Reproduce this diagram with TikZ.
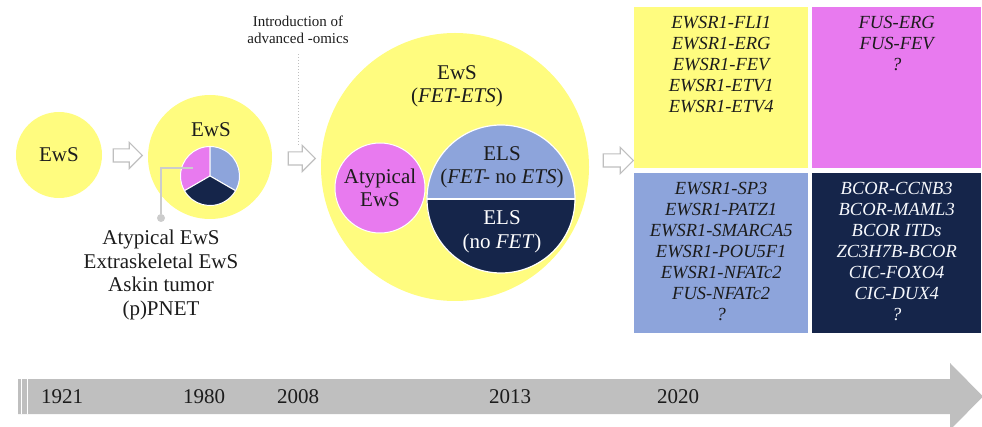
\documentclass[tikz,border=0pt]{standalone}
\usepackage{fontspec}
\setmainfont{Liberation Serif}
\usepackage{xcolor}
\definecolor{ewsyellow}{HTML}{FFFC7F}
\definecolor{atypink}{HTML}{E87AEF}
\definecolor{elsblue}{HTML}{8DA4DB}
\definecolor{elsnavy}{HTML}{15254A}
\definecolor{axisgrey}{HTML}{BFBFBF}
\definecolor{inkdark}{HTML}{1C1C1C}
\usepackage{tikz}
\usetikzlibrary{shapes,arrows,arrows.meta}
\usetikzlibrary{positioning}

\begin{document}
\begin{tikzpicture}[x=1pt,y=-1pt]

% Define styles
\tikzstyle{disc} = [circle, fill=ewsyellow, inner sep=0pt]
\tikzstyle{bigtext} = [font=\fontsize{21}{23.5}\selectfont, text=inkdark,
    align=center, inner sep=0pt]
\tikzstyle{boxtext} = [font=\fontsize{18.5}{21}\selectfont\itshape, text=inkdark,
    align=center, inner sep=0pt]
\tikzstyle{panel} = [rectangle, anchor=north west, inner sep=0pt, minimum height=160pt]
\tikzstyle{hollow} = [single arrow, draw=axisgrey, line width=1.1pt, fill=white,
    inner xsep=0pt, inner ysep=6pt, single arrow head extend=6.5pt]
\tikzstyle{year} = [font=\fontsize{21}{24}\selectfont, text=inkdark, inner sep=0pt]
\tikzstyle{leader} = [draw=axisgrey!80, line width=2pt]
\tikzstyle{dotline} = [draw=axisgrey, dotted, line width=1pt]

\useasboundingbox (0,0) rectangle (982,427);

    % Timeline
    \fill [axisgrey] (18,379) -- (950,379) -- (950,363) -- (983,396.5)
        -- (950,430) -- (950,414) -- (18,414) -- cycle;
    \draw [white, line width=0.8pt] (21,379) -- (21,414) (27,379) -- (27,414);
    \node [year] (y1921) at (62,397) {1921};
    \node [year] (y1980) at (204,397) {1980};
    \node [year] (y2008) at (298,397) {2008};
    \node [year] (y2013) at (510,397) {2013};
    \node [year] (y2020) at (678,397) {2020};

    % 1921
    \node [disc, bigtext, minimum size=86pt] (ews1) at (59,155) {EwS};
    \node [hollow, minimum height=29pt] (arr1) at (124.5,155.5) {};

    % 1980
    \node [disc, minimum size=124pt] (ews2) at (210,157) {};
    \node [bigtext] (ews2lbl) at (211,130) {EwS};
    \coordinate (piec) at (210,176);
    \filldraw [fill=atypink, draw=white, line width=1pt] (piec) -- +(-90:29.5)
        arc [start angle=-90, end angle=-210, radius=29.5] -- cycle;
    \filldraw [fill=elsblue, draw=white, line width=1pt] (piec) -- +(30:29.5)
        arc [start angle=30, end angle=-90, radius=29.5] -- cycle;
    \filldraw [fill=elsnavy, draw=white, line width=1pt] (piec) -- +(150:29.5)
        arc [start angle=150, end angle=30, radius=29.5] -- cycle;
    \coordinate (pinkpt) at (193,168);
    \node [circle, fill=axisgrey!80, inner sep=0pt, minimum size=8pt] (dot) at (161,218) {};
    \path [leader] (pinkpt) -| (dot);
    \node [bigtext, below=8pt of dot] (variants)
        {Atypical EwS\\Extraskeletal EwS\\Askin tumor\\(p)PNET};
    \node [hollow, minimum height=27pt] (arr2) at (298.5,158.5) {};

    % 2008
    \node [font=\fontsize{15}{17}\selectfont, text=inkdark, align=center, inner sep=0pt]
        (omics) at (298,30) {Introduction of\\advanced -omics};
    \coordinate (omicsend) at (298,145);
    \path [dotline, shorten <=10pt] (omics) -- (omicsend);

    % 2013
    \node [disc, minimum size=268pt] (ews3) at (455,167) {};
    \node [bigtext] (ews3lbl) at (457,86.5) {EwS\\(\textit{FET-ETS})};
    \node [circle, fill=atypink, draw=white, line width=1pt, minimum size=90pt,
        bigtext] (atyp) at (380,188) {Atypical\\EwS};
    \node [circle, minimum size=148pt, inner sep=0pt] (elsdisc) at (501,199) {};
    \fill [elsblue] (elsdisc.west) arc [start angle=180, end angle=360, radius=74] -- cycle;
    \fill [elsnavy] (elsdisc.west) arc [start angle=180, end angle=0, radius=74] -- cycle;
    \draw [white, line width=1.2pt] (elsdisc.west) -- (elsdisc.east);
    \draw [white, line width=1.2pt] (elsdisc.center) circle [radius=74];
    \node [bigtext] (elsfet) at (502,167.5) {ELS\\(\textit{FET-} no \textit{ETS})};
    \node [bigtext, text=white] (elsnofet) at (502,232) {ELS\\(no \textit{FET})};
    \node [hollow, minimum height=30pt] (arr3) at (615,160.5) {};

    % 2020
    \node [panel, fill=ewsyellow, minimum width=174pt, minimum height=161pt] (fetets) at (634,7) {};
    \node [panel, fill=atypink, minimum width=169pt, minimum height=161pt] (fusets) at (812,7) {};
    \node [panel, fill=elsblue, minimum width=174pt] (fetnoets) at (634,173) {};
    \node [panel, fill=elsnavy, minimum width=169pt] (nofet) at (812,173) {};
    \node [boxtext, below=9.5pt of fetets.north] (fetetslist)
        {EWSR1-FLI1\\EWSR1-ERG\\EWSR1-FEV\\EWSR1-ETV1\\EWSR1-ETV4};
    \node [boxtext, below=9.5pt of fusets.north] (fusetslist)
        {FUS-ERG\\FUS-FEV\\?};
    \node [boxtext, below=9.5pt of fetnoets.north] (fetnoetslist)
        {EWSR1-SP3\\EWSR1-PATZ1\\EWSR1-SMARCA5\\EWSR1-POU5F1\\EWSR1-NFATc2\\FUS-NFATc2\\?};
    \node [boxtext, text=white!92!elsblue, below=9.5pt of nofet.north] (nofetlist)
        {BCOR-CCNB3\\BCOR-MAML3\\BCOR ITDs\\ZC3H7B-BCOR\\CIC-FOXO4\\CIC-DUX4\\?};

\end{tikzpicture}
\end{document}
